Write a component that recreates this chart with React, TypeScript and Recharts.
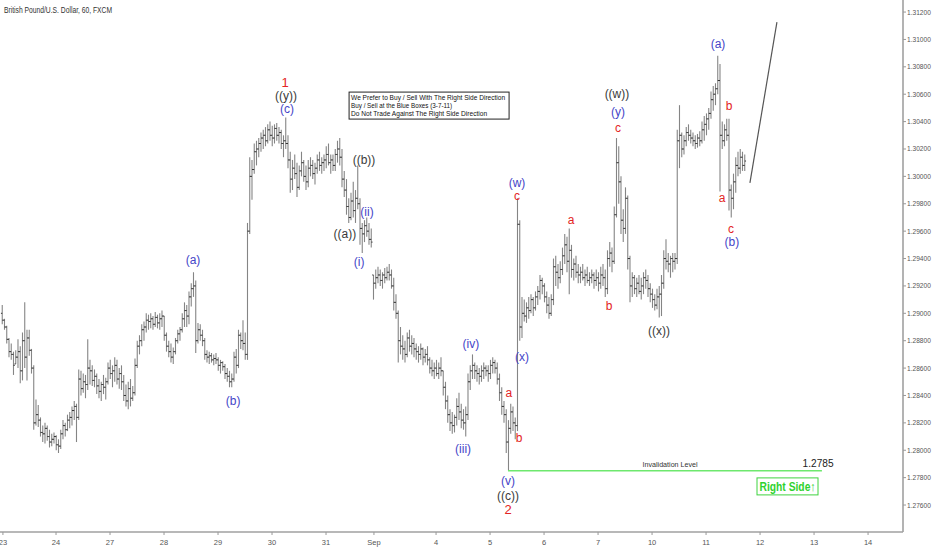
import React from 'react';
import { ComposedChart, Bar, XAxis, YAxis, Scatter, ReferenceLine } from 'recharts';

// ---------- data (prices in pips above 1.0000, e.g. 2906 -> 1.2906) ----------
const firstIndex = 1;
const firstOpen = 2900;

const highs = [
  2906,2896,2891,2882,2878,2872,2873,2881,2876,2886,
  2908,2888,2888,2874,2862,2837,2833,2824,2818,2820,
  2818,2815,2812,2813,2811,2808,2815,2822,2820,2826,
  2828,2832,2836,2834,2859,2858,2856,2855,2881,2866,
  2862,2859,2856,2852,2850,2855,2853,2864,2866,2862,
  2868,2866,2860,2862,2855,2848,2850,2852,2847,2867,
  2880,2884,2892,2894,2900,2899,2900,2898,2901,2899,
  2900,2902,2898,2886,2880,2878,2875,2882,2888,2890,
  2900,2908,2906,2916,2922,2930,2924,2893,2892,2888,
  2882,2873,2872,2871,2870,2871,2868,2866,2865,2863,
  2860,2858,2856,2872,2874,2888,2886,2895,2886,2966,
  3014,3012,3024,3026,3028,3032,3034,3036,3038,3040,
  3037,3038,3039,3036,3034,3030,3043,3030,3018,3012,
  3016,3010,3008,3018,3012,3008,3012,3014,3012,3010,
  3016,3018,3014,3016,3022,3024,3016,3016,3020,3026,
  3028,3020,3004,2998,2984,2988,2996,2990,3008,2984,
  2966,2968,2970,2966,2962,2928,2932,2934,2932,2930,
  2933,2934,2936,2932,2926,2914,2902,2890,2884,2880,
  2886,2888,2884,2882,2878,2876,2878,2875,2874,2876,
  2868,2866,2864,2866,2864,2868,2858,2850,2840,2830,
  2828,2826,2838,2842,2834,2830,2832,2856,2862,2870,
  2864,2862,2860,2862,2864,2862,2862,2866,2868,2866,
  2864,2856,2846,2836,2830,2822,2834,2832,2824,2984,
  2968,2912,2910,2908,2912,2914,2912,2916,2920,2928,
  2926,2922,2916,2912,2914,2940,2942,2936,2938,2948,
  2958,2956,2962,2950,2940,2942,2936,2934,2936,2932,
  2934,2930,2932,2930,2932,2930,2934,2936,2932,2946,
  2952,2948,2978,3028,3022,3000,2976,2992,2986,2942,
  2930,2928,2926,2928,2926,2930,2932,2928,2922,2918,
  2914,2918,2920,2928,2946,2954,2944,2942,2944,2944,
  3034,3052,3032,3030,3036,3038,3034,3032,3030,3031,
  3033,3040,3044,3046,3050,3062,3066,3068,3088,3082,
  3040,3038,3042,3042,2994,3002,3014,3018,3020,3018,3016,
];

const lows = [
  2892,2888,2878,2868,2866,2855,2863,2860,2849,2851,
  2860,2851,2869,2856,2815,2818,2817,2810,2806,2805,
  2807,2802,2803,2805,2800,2798,2801,2808,2810,2814,
  2816,2818,2822,2806,2822,2840,2842,2838,2844,2848,
  2847,2846,2841,2838,2836,2841,2837,2848,2852,2846,
  2850,2848,2845,2844,2836,2832,2830,2832,2836,2840,
  2860,2870,2876,2880,2886,2888,2889,2888,2890,2889,
  2888,2890,2880,2872,2868,2864,2863,2870,2878,2880,
  2886,2890,2890,2892,2905,2912,2871,2878,2880,2876,
  2866,2864,2863,2864,2862,2863,2858,2856,2858,2852,
  2850,2846,2846,2850,2856,2860,2874,2873,2866,2866,
  2958,2983,3002,3008,3014,3018,3020,3022,3024,3026,
  3022,3024,3026,3024,3020,3014,3020,3006,2988,2990,
  2998,2985,2990,3000,2996,2990,2992,3000,2998,2994,
  3002,3004,3002,3004,3006,3008,3002,3004,3004,3010,
  3008,2992,2985,2972,2966,2968,2970,2966,2976,2950,
  2944,2952,2956,2950,2948,2910,2918,2922,2920,2918,
  2922,2924,2924,2918,2902,2896,2864,2870,2866,2864,
  2868,2872,2870,2868,2866,2864,2866,2862,2864,2862,
  2856,2854,2852,2854,2852,2854,2840,2830,2820,2814,
  2812,2813,2818,2822,2816,2815,2810,2822,2844,2852,
  2852,2850,2848,2850,2852,2854,2850,2852,2856,2856,
  2848,2836,2826,2820,2798,2785,2812,2814,2808,2814,
  2880,2882,2894,2893,2896,2900,2898,2902,2906,2910,
  2914,2908,2900,2896,2898,2906,2920,2918,2922,2928,
  2936,2930,2914,2926,2924,2926,2922,2922,2924,2920,
  2922,2920,2922,2918,2920,2916,2918,2920,2912,2914,
  2934,2930,2936,2970,2980,2958,2952,2958,2932,2908,
  2912,2914,2912,2914,2910,2914,2918,2912,2908,2904,
  2902,2903,2897,2898,2918,2932,2930,2926,2930,2932,
  2936,3006,3014,3016,3022,3026,3024,3022,3020,3021,
  3022,3024,3026,3030,3034,3042,3048,3052,3060,2989,
  3020,3022,3026,2975,2970,2976,2988,3000,3002,3004,3004,
];

const closes = [
  2895,2890,2881,2872,2870,2862,2868,2872,2858,2880,
  2868,2882,2873,2860,2820,2826,2822,2813,2812,2816,
  2810,2806,2808,2810,2804,2803,2812,2818,2815,2822,
  2824,2829,2832,2824,2852,2845,2850,2848,2860,2858,
  2851,2854,2847,2843,2848,2846,2850,2860,2856,2858,
  2862,2852,2856,2850,2840,2836,2845,2838,2842,2862,
  2876,2880,2888,2890,2895,2894,2896,2892,2897,2893,
  2896,2898,2884,2876,2872,2868,2872,2880,2885,2888,
  2896,2902,2898,2912,2918,2920,2880,2888,2884,2880,
  2870,2868,2869,2866,2867,2866,2862,2864,2861,2856,
  2854,2850,2852,2868,2862,2884,2880,2878,2870,2960,
  3000,3005,3018,3020,3024,3028,3030,3026,3034,3030,
  3028,3035,3030,3032,3024,3026,3024,3012,2998,3006,
  3002,2992,3004,3010,3000,2996,3006,3008,3002,3006,
  3012,3008,3010,3012,3016,3010,3012,3008,3016,3020,
  3014,2998,2990,2978,2970,2982,2975,2984,2980,2962,
  2958,2964,2960,2954,2952,2922,2926,2928,2924,2928,
  2926,2930,2928,2920,2908,2900,2880,2876,2874,2870,
  2882,2876,2878,2874,2872,2870,2874,2868,2870,2866,
  2860,2858,2860,2856,2860,2858,2846,2836,2826,2820,
  2818,2824,2832,2828,2822,2820,2826,2850,2858,2862,
  2858,2856,2854,2858,2860,2858,2856,2862,2864,2860,
  2852,2842,2832,2826,2806,2816,2828,2820,2818,2965,
  2890,2900,2898,2904,2902,2910,2904,2912,2916,2924,
  2920,2912,2906,2900,2910,2934,2930,2926,2932,2942,
  2950,2938,2946,2932,2936,2930,2928,2930,2926,2928,
  2924,2926,2928,2924,2926,2922,2928,2926,2918,2940,
  2944,2938,2972,3010,2996,2968,2962,2984,2940,2920,
  2926,2918,2922,2916,2920,2926,2924,2918,2914,2910,
  2906,2912,2914,2922,2940,2938,2936,2940,2938,2940,
  3026,3030,3020,3026,3032,3030,3028,3026,3024,3028,
  3026,3034,3038,3042,3046,3056,3060,3064,3070,3030,
  3026,3034,3030,2990,2984,2996,3008,3006,3014,3008,3011.2,
];

// x axis: one unit = one hourly bar
const dateTickPos = [1.3, 24.9, 48.9, 72.9, 96.9, 120.9, 144.9, 166.2, 193.8, 217.8, 241.8, 265.8, 289.8, 313.8, 337.8, 361.8, 385.8];
const dateTickLabels = ['23', '24', '27', '28', '29', '30', '31', 'Sep', '4', '5', '6', '7', '10', '11', '12', '13', '14'];
const priceTicks = [1.276, 1.278, 1.28, 1.282, 1.284, 1.286, 1.288, 1.29, 1.292, 1.294, 1.296, 1.298, 1.3, 1.302, 1.304, 1.306, 1.308, 1.31, 1.312];

// Elliott wave labels: [bar position, pips, text, tone]
const waveLabels: [number, number, string, string][] = [
  [126.7, 3068.9, '1', 'red'],
  [127.1, 3058.7, '((y))', 'dark'],
  [127.6, 3049.2, '(c)', 'blue'],
  [85.8, 2939.0, '(a)', 'blue'],
  [103.6, 2836.0, '(b)', 'blue'],
  [161.8, 3012.0, '((b))', 'dark'],
  [153.3, 2958.0, '((a))', 'dark'],
  [163.1, 2974.0, '(ii)', 'blue'],
  [159.6, 2937.5, '(i)', 'blue'],
  [209.3, 2877.6, '(iv)', 'blue'],
  [205.8, 2801.0, '(iii)', 'blue'],
  [225.8, 2777.6, '(v)', 'blue'],
  [225.8, 2766.7, '((c))', 'dark'],
  [225.8, 2756.5, '2', 'red'],
  [226.2, 2841.9, 'a', 'red'],
  [230.7, 2809.0, 'b', 'red'],
  [232.0, 2868.0, '(x)', 'blue'],
  [229.8, 2995.2, '(w)', 'blue'],
  [229.8, 2985.7, 'c', 'red'],
  [253.8, 2968.2, 'a', 'red'],
  [270.7, 2905.4, 'b', 'red'],
  [274.2, 3060.1, '((w))', 'dark'],
  [274.7, 3047.0, '(y)', 'blue'],
  [274.7, 3035.3, 'c', 'red'],
  [292.9, 2887.1, '((x))', 'dark'],
  [319.1, 3096.6, '(a)', 'blue'],
  [324.0, 3051.4, 'b', 'red'],
  [320.9, 2984.2, 'a', 'red'],
  [324.9, 2961.6, 'c', 'red'],
  [325.3, 2952.1, '(b)', 'blue'],
];

const infoLines = [
  'We Prefer to Buy / Sell With The Right Side Direction',
  'Buy / Sell at the Blue Boxes (3-7-11)',
  'Do Not Trade Against The Right Side Direction',
];
const invalidationLevel = 2785;
const invalidationSpan = [225.8, 365.3];
const projectionT = [333.3, 345.3];
const projectionP = [2995.2, 3112.7];

// ---------- derived tables ----------
const toPrice = (v: number) => 1 + v / 10000;
const X_MAX = 401.33;
const Y_MIN = 1.27403;
const Y_MAX = 1.31288;

const bars = highs.map((h, k) => {
  const l = lows[k];
  const c = closes[k];
  const prev = k === 0 ? firstOpen : closes[k - 1];
  const o = Math.min(h, Math.max(l, prev));
  return {
    t: firstIndex + k,
    range: [toPrice(l), toPrice(h)],
    hi: toPrice(h),
    lo: toPrice(l),
    op: toPrice(o),
    cl: toPrice(c),
  };
});

const toneColor: Record<string, string> = { red: '#e32424', blue: '#4545c8', dark: '#3a3a3a' };
const waveData = waveLabels.map(([t, p, text, tone]) => ({ t, p: toPrice(p), text, tone }));

const lastClose = closes[closes.length - 1];
const noteData = [
  { t: 190.7, p: toPrice(3051.7), kind: 'info' },
  { t: 297.8, p: toPrice(2789.3), kind: 'invText' },
  { t: 363.6, p: toPrice(2790.8), kind: 'level' },
  { t: 350.0, p: toPrice(2773.6), kind: 'right' },
  { t: X_MAX, p: toPrice(lastClose), kind: 'last' },
];

const FONT = '"Liberation Sans", Arial, sans-serif';
const NARROW = '"Liberation Sans Narrow", "Liberation Sans", Arial, sans-serif';

const OhlcShape = (props: any) => {
  const { x, y, width, height, payload } = props;
  if (x == null || y == null || !payload) return null;
  const cx = x + (width || 0) / 2;
  const top = Math.min(y, y + height);
  const bot = Math.max(y, y + height);
  const span = payload.hi - payload.lo;
  const yAt = (v: number) => top + (span > 0 ? ((payload.hi - v) / span) * (bot - top) : 0);
  const yo = yAt(payload.op);
  const yc = yAt(payload.cl);
  return (
    <g>
      <line x1={cx} x2={cx} y1={top} y2={bot} stroke="#858585" strokeWidth={1.1} />
      <line x1={cx - 1.3} x2={cx} y1={yo} y2={yo} stroke="#333" strokeWidth={1} />
      <line x1={cx} x2={cx + 1.3} y1={yc} y2={yc} stroke="#333" strokeWidth={1} />
    </g>
  );
};

const WaveShape = (props: any) => {
  const { cx, cy, payload } = props;
  if (cx == null || cy == null) return null;
  const big = payload.text === '1' || payload.text === '2';
  return (
    <text x={cx} y={cy} textAnchor="middle" dominantBaseline="central" fill={toneColor[payload.tone]}
      fontSize={big ? 13 : 12} fontFamily={FONT}>
      {payload.text}
    </text>
  );
};

const NoteShape = (props: any) => {
  const { cx, cy, payload } = props;
  if (cx == null || cy == null) return null;
  if (payload.kind === 'info') {
    const widths = [154, 101, 136];
    return (
      <g>
        <rect x={cx - 80} y={cy - 13.5} width={160} height={27} fill="#fff" stroke="#222" strokeWidth={1} />
        {infoLines.map((s, k) => (
          <text key={k} x={cx - 78} y={cy - 8.5 + k * 8.2} dominantBaseline="central" fontSize={8} fill="#111"
            fontFamily={NARROW} textLength={widths[k]} lengthAdjust="spacingAndGlyphs">{s}</text>
        ))}
      </g>
    );
  }
  if (payload.kind === 'invText') {
    return (
      <text x={cx} y={cy} textAnchor="middle" dominantBaseline="central" fontSize={8} fill="#333" fontFamily={NARROW}
        textLength={55} lengthAdjust="spacingAndGlyphs">Invalidation Level</text>
    );
  }
  if (payload.kind === 'level') {
    return (
      <text x={cx} y={cy} textAnchor="middle" dominantBaseline="central" fontSize={11.5} fill="#222" fontFamily={FONT}
        textLength={31} lengthAdjust="spacingAndGlyphs">1.2785</text>
    );
  }
  if (payload.kind === 'right') {
    return (
      <g>
        <rect x={cx - 30.5} y={cy - 8.5} width={61} height={17} fill="#fff" stroke="#3fd33f" strokeWidth={1} />
        <text x={cx} y={cy + 0.5} textAnchor="middle" dominantBaseline="central" fontSize={12.5} fontWeight="bold"
          fill="#2fd22f" fontFamily={NARROW} textLength={56} lengthAdjust="spacingAndGlyphs">Right Side↑</text>
      </g>
    );
  }
  if (payload.kind === 'last') {
    return (
      <g>
        <rect x={cx + 1} y={cy - 6} width={28} height={12} fill="#111" />
        <text x={cx + 2.5} y={cy} dominantBaseline="central" fontSize={6.6} fill="#fff" fontFamily={FONT}>
          {(1 + lastClose / 10000).toFixed(5)}
        </text>
      </g>
    );
  }
  return null;
};

const PriceTick = (props: any) => {
  const { x, y, payload } = props;
  return (
    <text x={x} y={y} dominantBaseline="central" fontSize={6.6} fill="#555" fontFamily={FONT}>
      {Number(payload.value).toFixed(5)}
    </text>
  );
};

const DateTick = (props: any) => {
  const { x, y, payload } = props;
  let k = 0;
  let best = Infinity;
  dateTickPos.forEach((v, i) => {
    const d = Math.abs(v - payload.value);
    if (d < best) { best = d; k = i; }
  });
  return (
    <text x={x} y={y + 8} textAnchor="middle" fontSize={7.5} fill="#555" fontFamily={NARROW}>{dateTickLabels[k]}</text>
  );
};

export default function App() {
  return (
    <div style={{ position: 'absolute', left: 0, top: 0, width: 932, height: 550, background: '#fff' }}>
      <ComposedChart width={932} height={550} data={bars} margin={{ top: 0, right: 0, bottom: 0, left: 0 }}>
        <XAxis dataKey="t" type="number" domain={[0, X_MAX]} allowDataOverflow ticks={dateTickPos}
          height={18} tickSize={3} tickMargin={2} tick={<DateTick />} axisLine={{ stroke: '#a0a0a0', strokeWidth: 1.6 }}
          tickLine={{ stroke: '#999' }} interval={0} />
        <YAxis orientation="right" type="number" domain={[Y_MIN, Y_MAX]} allowDataOverflow ticks={priceTicks}
          width={29} tickSize={3} tickMargin={1} tick={<PriceTick />} axisLine={{ stroke: '#a0a0a0', strokeWidth: 1.6 }}
          tickLine={{ stroke: '#999' }} interval={0} />
        <Bar dataKey="range" barSize={1} shape={<OhlcShape />} isAnimationActive={false} />
        <ReferenceLine segment={[{ x: invalidationSpan[0], y: toPrice(invalidationLevel) }, { x: invalidationSpan[1], y: toPrice(invalidationLevel) }]}
          stroke="#6ee86e" strokeWidth={1.5} ifOverflow="visible" />
        <ReferenceLine segment={[{ x: projectionT[0], y: toPrice(projectionP[0]) }, { x: projectionT[1], y: toPrice(projectionP[1]) }]}
          stroke="#555" strokeWidth={1.2} ifOverflow="visible" />
        <Scatter data={waveData} dataKey="p" shape={<WaveShape />} isAnimationActive={false} />
        <Scatter data={noteData} dataKey="p" shape={<NoteShape />} isAnimationActive={false} />
      </ComposedChart>
      <svg width={200} height={20} style={{ position: 'absolute', left: 0, top: 0 }}>
        <text x={4} y={13} fontSize={9} fill="#333" fontFamily={NARROW} textLength={108} lengthAdjust="spacingAndGlyphs">
          British Pound/U.S. Dollar, 60, FXCM
        </text>
      </svg>
    </div>
  );
}
